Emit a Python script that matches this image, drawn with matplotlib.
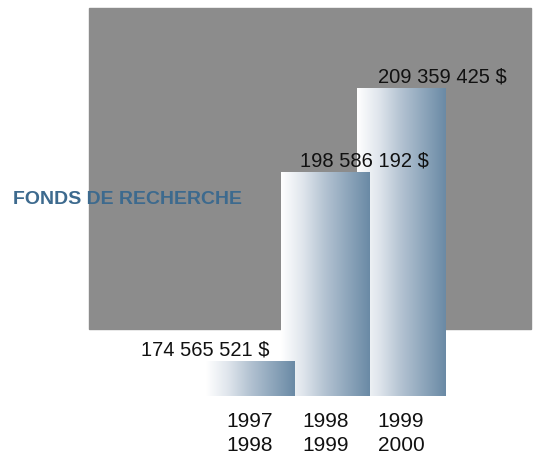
import matplotlib
matplotlib.use('Agg')
import matplotlib.pyplot as plt
import numpy as np
from matplotlib.colors import LinearSegmentedColormap
from matplotlib.patches import Rectangle

# data
periods = ['1997\n1998', '1998\n1999', '1999\n2000']
funds = [174565521, 198586192, 209359425]
value_labels = ['174 565 521 $', '198 586 192 $', '209 359 425 $']
title = 'FONDS DE RECHERCHE'

plt.rcParams['font.family'] = ['Liberation Sans', 'DejaVu Sans']

fig = plt.figure(figsize=(5.34, 4.6), dpi=100)
ax = fig.add_axes([89 / 534, 63 / 460, 442 / 534, 388 / 460])
ax.patch.set_visible(False)
for s in ax.spines.values():
    s.set_visible(False)

# gray backdrop panel, behind the bars
ax.add_patch(Rectangle((89 / 534, 1 - 330 / 460), 442 / 534, 321 / 460,
                       transform=fig.transFigure, color='#8c8c8c',
                       zorder=0, clip_on=False))

x = np.arange(len(funds))
base = 170.2e6
bars = ax.bar(x, np.array(funds) - base, bottom=base, width=1.162,
              color='none', edgecolor='none')

cmap = LinearSegmentedColormap.from_list(
    'fade', ['#ffffff', '#dfe5ec', '#b3c2d1', '#8ea6bb', '#6a8aa5'])
grad = np.linspace(0, 1, 256).reshape(1, -1)
for i, b in enumerate(bars):
    x0, y0 = b.get_x(), b.get_y()
    ax.imshow(grad, cmap=cmap, aspect='auto', interpolation='bicubic',
              extent=(x0, x0 + b.get_width(), y0, y0 + b.get_height()),
              zorder=10 - i)

offsets = [(-32, 5), (28, 5), (30, 5)]
for b, lab, off in zip(bars, value_labels, offsets):
    ax.annotate(lab, (b.get_x() + b.get_width() / 2, b.get_y() + b.get_height()),
                xytext=off, textcoords='offset points', ha='center',
                va='baseline', fontsize=14.5, color='#111111', zorder=20)

ax.set_xlim(-2.119, 3.716)
ax.set_ylim(base, base + 388 / 7.86 * 1e6)
ax.set_yticks([])
ax.set_xticks(x)
ax.set_xticklabels(periods, fontsize=15, linespacing=1.3, color='#111111')
ax.tick_params(axis='x', length=0, pad=11)

ax.text(13 / 534, 1 - 199 / 460, title, transform=fig.transFigure,
        fontsize=14, fontweight='bold', color='#3d6a8e', va='center',
        ha='left', zorder=20, clip_on=False)

fig.savefig('out.png', dpi=100)
